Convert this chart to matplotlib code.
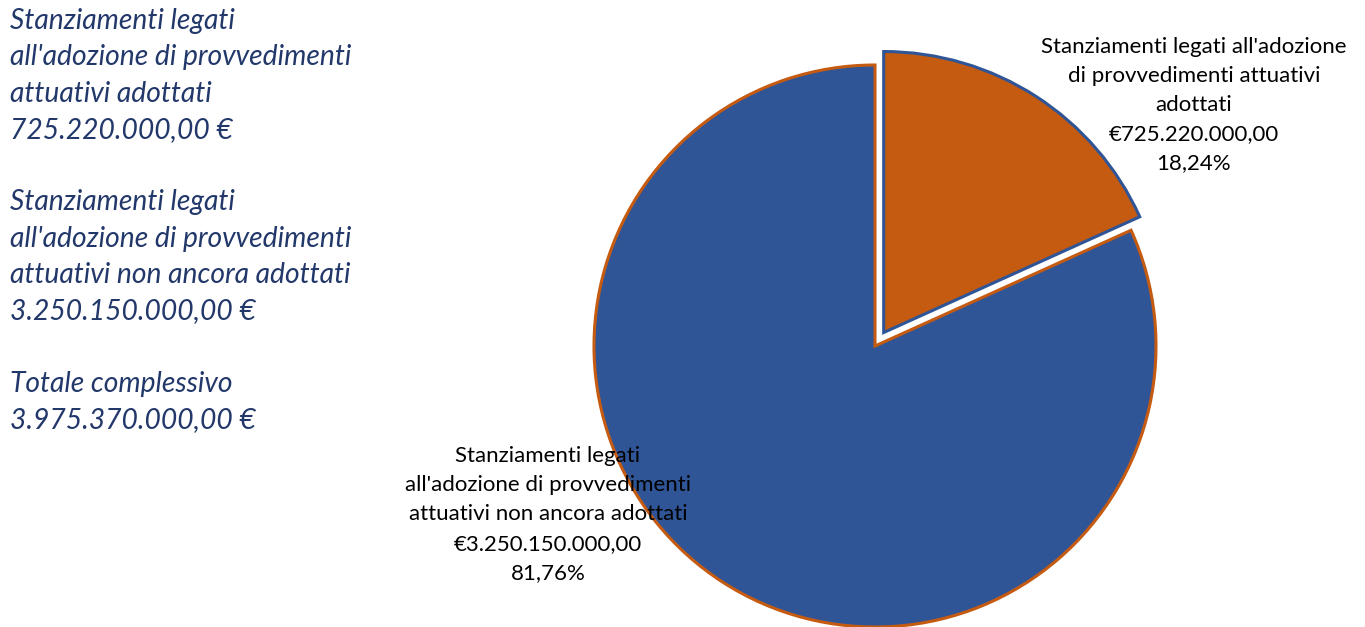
import matplotlib
matplotlib.use('Agg')
import matplotlib.pyplot as plt

# data
labels = ["Stanziamenti legati all'adozione\ndi provvedimenti attuativi\nadottati",
          "Stanziamenti legati\nall'adozione di provvedimenti\nattuativi non ancora adottati"]
values = [725220000.00, 3250150000.00]
amounts = ["€725.220.000,00", "€3.250.150.000,00"]
pcts = ["18,24%", "81,76%"]
side_text = ("Stanziamenti legati\nall'adozione di provvedimenti\nattuativi adottati\n725.220.000,00 €\n\n"
             "Stanziamenti legati\nall'adozione di provvedimenti\nattuativi non ancora adottati\n3.250.150.000,00 €\n\n"
             "Totale complessivo\n3.975.370.000,00 €")

fill = ['#C55A11', '#2F5597']
edge = ['#2F5597', '#C55A11']

plt.rcParams['font.family'] = ['Lato', 'DejaVu Sans']

W, H = 1365, 627
fig = plt.figure(figsize=(W / 100, H / 100), dpi=100)

R = 281                     # pie radius in px
cx, cy = 875, 627 - 346     # pie centre in px (from bottom)
lim = 1.2
side = 2 * lim * R
ax = fig.add_axes([(cx - side / 2) / W, (cy - side / 2) / H, side / W, side / H])
ax.axis('off')

wedges, _ = ax.pie(values, startangle=90, counterclock=False, explode=[0.057, 0],
                   radius=1, center=(0, 0), frame=False)
for w, fc, ec in zip(wedges, fill, edge):
    w.set_facecolor(fc)
    w.set_edgecolor(ec)
    w.set_linewidth(2.2)
    w.set_clip_on(False)
ax.set_xlim(-lim, lim)
ax.set_ylim(-lim, lim)
ax.set_aspect('equal')

# data labels
ax.text(1.135, 1.10, f"{labels[0]}\n{amounts[0]}\n{pcts[0]}", ha='center', va='top',
        fontsize=16, linespacing=1.56, color='black')
ax.text(-1.164, -0.355, f"{labels[1]}\n{amounts[1]}\n{pcts[1]}", ha='center', va='top',
        fontsize=16, linespacing=1.58, color='black')

fig.text(10 / W, 1 - 8 / H, side_text, ha='left', va='top', fontsize=20.3,
         style='italic', color='#22386A', linespacing=1.49)

fig.savefig('out.png', dpi=100)
